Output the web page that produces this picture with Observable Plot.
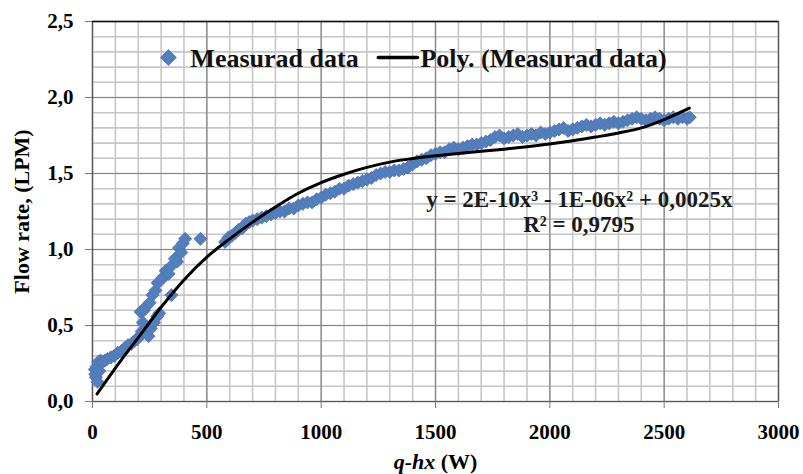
<!DOCTYPE html>
<html><head><meta charset="utf-8">
<script src="https://cdn.jsdelivr.net/npm/d3@7"></script>
<script src="https://cdn.jsdelivr.net/npm/@observablehq/plot@0.6"></script>
<style>body{margin:0;background:#fff}</style>
</head><body><div id="chart"></div>
<script>
const measuredX = [10,12,15,18,22,25,30,35,45,55,65,80,95,110,125,140,155,170,185,195,205,210,215,220,225,232,238,245,250,255,262,268,275,283,285,292,300,310,320,333,345,350,360,370,378,388,395,405,472,
580,595,610,625,640,655,670,685,700,720,740,760,780,800,820,840,860,880,900,920,940,960,980,1000,1020,1040,1060,1080,1100,1120,1140,1160,1180,1200,1220,1240,1260,1280,1300,1320,1340,1360,1380,1400,1420,1440,1460,1480,1500,1520,1540,1560,1580,1600,1620,1640,1660,1680,1700,1720,1740,1760,1780,1800,1820,1840,1860,1880,1900,1920,1940,1960,1980,2000,2020,2040,2060,2080,2100,2120,2140,2160,2180,2200,2220,2240,2260,2280,2300,2320,2340,2360,2380,2400,2420,2440,2460,2480,2500,2520,2540,2560,2580,2600,2612];
const measuredY = [0.21,0.18,0.16,0.23,0.13,0.26,0.20,0.27,0.26,0.27,0.28,0.29,0.30,0.32,0.33,0.35,0.37,0.38,0.40,0.41,0.43,0.59,0.46,0.52,0.60,0.47,0.63,0.43,0.65,0.48,0.70,0.52,0.73,0.56,0.78,0.58,0.80,0.82,0.86,0.84,0.70,0.90,0.94,0.92,1.01,0.98,1.04,1.07,1.07,
1.05,1.08,1.09,1.11,1.13,1.14,1.17,1.18,1.19,1.20,1.21,1.22,1.23,1.24,1.25,1.25,1.27,1.27,1.29,1.30,1.31,1.31,1.33,1.34,1.36,1.37,1.38,1.40,1.40,1.42,1.43,1.44,1.45,1.46,1.47,1.49,1.50,1.51,1.51,1.52,1.52,1.53,1.54,1.56,1.58,1.59,1.60,1.62,1.63,1.64,1.64,1.66,1.67,1.66,1.67,1.68,1.69,1.69,1.70,1.71,1.72,1.74,1.75,1.73,1.74,1.75,1.76,1.74,1.75,1.76,1.75,1.77,1.76,1.77,1.78,1.79,1.80,1.78,1.79,1.80,1.81,1.82,1.81,1.82,1.83,1.82,1.83,1.84,1.83,1.84,1.85,1.86,1.87,1.86,1.85,1.86,1.87,1.86,1.85,1.86,1.87,1.86,1.87,1.86,1.87];

// Polynomial trendline
const trendX = [20,100,200,300,400,500,600,700,800,900,1000,1100,1200,1300,1400,1500,1600,1700,1800,1900,2000,2100,2200,2300,2400,2500,2610];
const trendY = [0.05,0.22,0.42,0.62,0.80,0.95,1.07,1.18,1.28,1.37,1.44,1.495,1.54,1.575,1.598,1.617,1.632,1.646,1.66,1.676,1.694,1.715,1.74,1.767,1.80,1.855,1.93];

// Axes
const xTicks = [0,500,1000,1500,2000,2500,3000];
const yTicks = [0,0.5,1.0,1.5,2.0,2.5];
const xMinor = d3.range(0, 3001, 100);
const yMinor = d3.range(0, 26, 1).map(i => i / 10);

// Texts
const legendLabels = ["Measurad data", "Poly. (Measurad data)"];
const equationLines = ["y = 2E-10x³ - 1E-06x² + 0,0025x", "R² = 0,9795"];

const measured = measuredX.map((x, i) => ({x, y: measuredY[i]}));
const trend = trendX.map((x, i) => ({x, y: trendY[i]}));

const serif = "'Liberation Serif','Times New Roman',serif";
const blue = "#4f81bd";

const chart = Plot.plot({
  width: 803,
  height: 474,
  marginLeft: 92,
  marginRight: 25,
  marginTop: 21,
  marginBottom: 73,
  style: {fontFamily: serif, fontWeight: "bold", fontSize: "21px", color: "#000", background: "#fff"},
  x: {domain: [0, 3000]},
  y: {domain: [0, 2.5]},
  marks: [
    Plot.gridX(xMinor, {stroke: "#c6c6c6", strokeOpacity: 1, strokeWidth: 1.6}),
    Plot.gridY(yMinor, {stroke: "#c6c6c6", strokeOpacity: 1, strokeWidth: 1.6}),
    Plot.gridX(xTicks, {stroke: "#858585", strokeOpacity: 1, strokeWidth: 1.2}),
    Plot.gridY(yTicks, {stroke: "#858585", strokeOpacity: 1, strokeWidth: 1.2}),
    Plot.frame({stroke: "#555", strokeWidth: 1.2}),
    Plot.ruleY([2.5], {stroke: "#111", strokeWidth: 1.6}),
    Plot.axisX({ticks: xTicks, tickSize: 7, tickPadding: 16, stroke: "#777",
      tickFormat: d => String(d), label: "q-hx (W)", labelAnchor: "center", labelOffset: 67, labelArrow: "none"}),
    Plot.axisY({ticks: yTicks, tickSize: 7, tickPadding: 12, stroke: "#777",
      tickFormat: d => d.toFixed(1).replace(".", ","), label: "Flow rate, (LPM)", labelAnchor: "center", labelOffset: 79, labelArrow: "none"}),
    Plot.dot(measured, {x: "x", y: "y", symbol: "diamond2", r: 5.9, fill: blue, stroke: "#5d6db0", strokeWidth: 0.8}),
    Plot.line(trend, {x: "x", y: "y", curve: "monotone-x", stroke: "#000", strokeWidth: 3}),
    // legend
    Plot.dot([{x: 332, y: 2.263}], {x: "x", y: "y", symbol: "diamond2", r: 7.2, fill: blue, stroke: "#5d6db0", strokeWidth: 0.8}),
    Plot.text([legendLabels[0]], {x: 428, y: 2.257, text: d => d, textAnchor: "start", lineAnchor: "middle", fontSize: 26, fill: "#111"}),
    Plot.line([{x: 1250, y: 2.263}, {x: 1421, y: 2.263}], {x: "x", y: "y", stroke: "#000", strokeWidth: 3.5}),
    Plot.text([legendLabels[1]], {x: 1434, y: 2.257, text: d => d, textAnchor: "start", lineAnchor: "middle", fontSize: 26, fill: "#111"}),
    // equation
    Plot.text([equationLines[0]], {x: 2129, y: 1.33, text: d => d, textAnchor: "middle", lineAnchor: "middle", fontSize: 23, fill: "#1a1a1a"}),
    Plot.text([equationLines[1]], {x: 2127, y: 1.165, text: d => d, textAnchor: "middle", lineAnchor: "middle", fontSize: 23, fill: "#1a1a1a"})
  ]
});

document.getElementById("chart").appendChild(chart);

// mixed-style x label and label sizes
const xl = chart.querySelector('g[aria-label="x-axis label"] text');
if (xl) {
  xl.setAttribute("font-size", "22");
  xl.textContent = "";
  const t1 = document.createElementNS("http://www.w3.org/2000/svg", "tspan");
  t1.setAttribute("font-style", "italic");
  t1.textContent = "q-hx";
  const t2 = document.createElementNS("http://www.w3.org/2000/svg", "tspan");
  t2.textContent = " (W)";
  xl.appendChild(t1); xl.appendChild(t2);
}
const yl = chart.querySelector('g[aria-label="y-axis label"] text');
if (yl) yl.setAttribute("font-size", "22");
</script>
</body></html>
